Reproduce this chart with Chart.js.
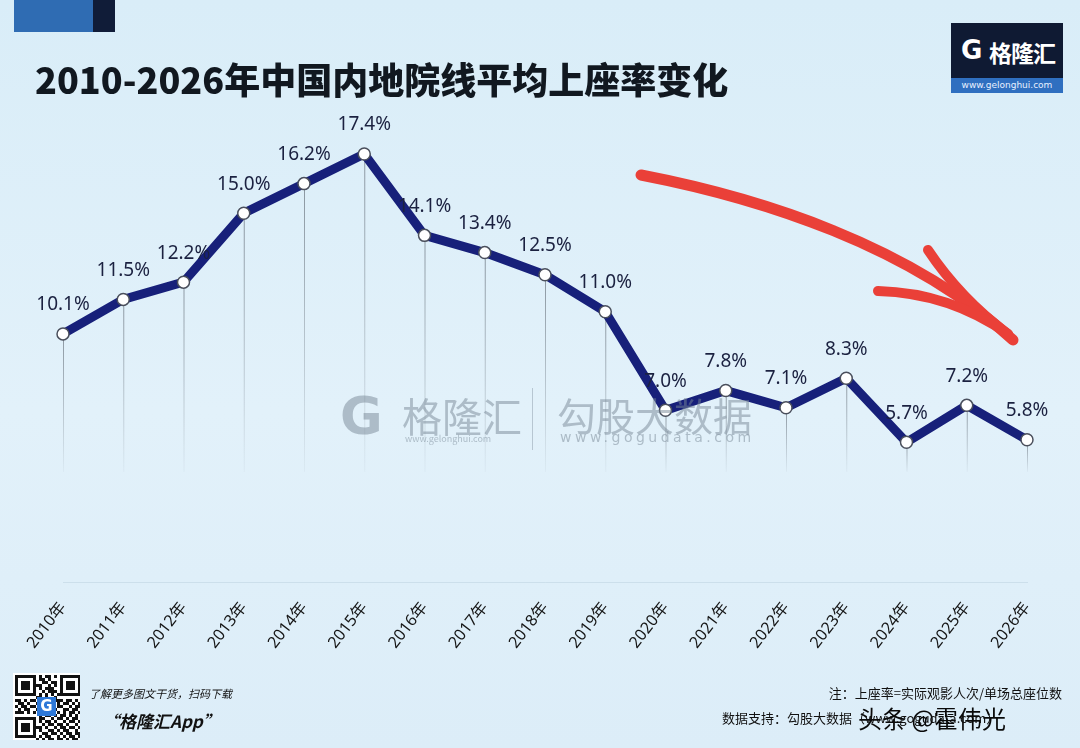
<!DOCTYPE html>
<html>
<head>
<meta charset="utf-8">
<script src="https://cdn.jsdelivr.net/npm/chart.js@4.4.1/dist/chart.umd.min.js"></script>
<style>
  html, body { margin: 0; padding: 0; }
  body {
    width: 1080px; height: 748px; overflow: hidden; position: relative;
    background: linear-gradient(180deg, #d9edf8 0%, #e2f1fa 55%, #dcedf8 100%);
    font-family: "Noto Sans CJK SC", "Noto Sans", sans-serif;
  }
  #wrap { position: absolute; left: 0; top: 0; width: 1080px; height: 748px; }
  .deco1 { position: absolute; left: 14px; top: 0; width: 79px; height: 32px; background: #2f6cb3; }
  .deco2 { position: absolute; left: 93px; top: 0; width: 22px; height: 32px; background: #101c38; }
  .title { position: absolute; left: 35px; top: 52px; font-size: 36px; font-weight: 900; color: #111820; letter-spacing: 0px; white-space: nowrap; }
  .logo { position: absolute; left: 951px; top: 23px; width: 112px; height: 70px; background: #0f1a33; }
  .logo .g { position: absolute; left: 10px; top: 12px; color: #fff; font-size: 26px; font-weight: 900; font-family: "DejaVu Sans", sans-serif; }
  .logo .nm { position: absolute; left: 38px; top: 12px; color: #fff; font-size: 23px; font-weight: 700; letter-spacing: -1px; }
  .logo .bar { position: absolute; left: 0; bottom: 0; width: 112px; height: 15px; background: #2f6fc0; color: #e8f0ff; font-size: 9px; line-height: 15px; text-align: center; font-family: "DejaVu Sans", sans-serif; }
  .wm { position: absolute; color: rgba(120,135,150,0.5); white-space: nowrap; }
  .qr { position: absolute; left: 13px; top: 673px; width: 67px; height: 67px; background: #fff; }
  .foot1 { position: absolute; left: 89px; top: 685px; font-size: 11px; font-style: italic; color: #111; }
  .foot2 { position: absolute; left: 102px; top: 708px; font-size: 17px; font-style: italic; font-weight: 700; color: #111; }
  .note { position: absolute; right: 18px; top: 683px; font-size: 13px; color: #111; }
  .src { position: absolute; right: 18px; top: 708px; font-size: 13px; color: #111; width: 340px; }
  .tt { position: absolute; left: 858px; top: 700px; font-size: 24px; color: #0a0a0a; white-space: nowrap; }
</style>
</head>
<body>
<div id="wrap"><canvas id="chartSeat" width="1080" height="748"></canvas></div>
<div class="deco1"></div><div class="deco2"></div>
<div class="title">2010-2026年中国内地院线平均上座率变化</div>
<div class="logo"><span class="g">G</span><span class="nm">格隆汇</span><div class="bar">www.gelonghui.com</div></div>

<div class="wm" style="left:340px;top:386px;font-size:52px;font-weight:900;font-family:'DejaVu Sans',sans-serif;">G</div>
<div class="wm" style="left:402px;top:386px;font-size:40px;">格隆汇</div>
<div class="wm" style="left:405px;top:432px;font-size:9px;">www.gelonghui.com</div>
<div class="wm" style="left:532px;top:388px;width:1px;height:62px;background:rgba(120,135,150,0.4);"></div>
<div class="wm" style="left:557px;top:386px;font-size:39px;">勾股大数据</div>
<div class="wm" style="left:560px;top:429px;font-size:14px;letter-spacing:3.5px;font-family:'DejaVu Sans',sans-serif;">www.gogudata.com</div>

<canvas class="qr" id="qr" width="67" height="67"></canvas>
<div class="foot1">了解更多图文干货，扫码下载</div>
<div class="foot2">“格隆汇App”</div>
<div class="note">注：上座率=实际观影人次/单场总座位数</div>
<div class="src">数据支持：勾股大数据（www.gogudata.com）</div>
<div class="tt">头条 @霍伟光</div>

<script>
const years = ['2010年','2011年','2012年','2013年','2014年','2015年','2016年','2017年','2018年','2019年','2020年','2021年','2022年','2023年','2024年','2025年','2026年'];
const seatRate = [10.1, 11.5, 12.2, 15.0, 16.2, 17.4, 14.1, 13.4, 12.5, 11.0, 7.0, 7.8, 7.1, 8.3, 5.7, 7.2, 5.8];
const yMin = 0;
const yMax = 20;
const dropTo = 4.5; // drop lines end at this value

// drop lines + value labels
const seatExtras = {
  id: 'seatExtras',
  beforeDatasetsDraw(chart) {
    const ctx = chart.ctx;
    const yScale = chart.scales.y;
    const bottom = yScale.getPixelForValue(dropTo);
    chart.getDatasetMeta(0).data.forEach(pt => {
      const g = ctx.createLinearGradient(0, pt.y, 0, bottom);
      g.addColorStop(0, 'rgba(110,120,130,0.75)');
      g.addColorStop(1, 'rgba(110,120,130,0.05)');
      ctx.save();
      ctx.strokeStyle = g;
      ctx.lineWidth = 1;
      ctx.beginPath();
      ctx.moveTo(pt.x + 0.5, pt.y);
      ctx.lineTo(pt.x + 0.5, bottom);
      ctx.stroke();
      ctx.restore();
    });
  },
  afterDatasetsDraw(chart) {
    const ctx = chart.ctx;
    ctx.save();
    ctx.font = '19px "Noto Sans", sans-serif';
    ctx.fillStyle = '#1b2140';
    ctx.textAlign = 'center';
    ctx.textBaseline = 'middle';
    chart.getDatasetMeta(0).data.forEach((pt, i) => {
      ctx.fillText(seatRate[i].toFixed(1) + '%', pt.x, pt.y - 29);
    });
    ctx.restore();
  },
  afterDraw(chart) {
    // red hand drawn arrow
    const ctx = chart.ctx;
    ctx.save();
    ctx.strokeStyle = '#ea4038';
    ctx.lineCap = 'round';
    ctx.lineJoin = 'round';
    ctx.lineWidth = 11;
    ctx.beginPath();
    ctx.moveTo(641, 175);
    ctx.bezierCurveTo(760, 198, 910, 245, 1013, 340);
    ctx.stroke();
    ctx.lineWidth = 10;
    ctx.beginPath();
    ctx.moveTo(928, 250);
    ctx.quadraticCurveTo(960, 298, 1008, 334);
    ctx.stroke();
    ctx.beginPath();
    ctx.moveTo(878, 291);
    ctx.quadraticCurveTo(950, 293, 1008, 334);
    ctx.stroke();
    ctx.restore();
  }
};

const ctxSeat = document.getElementById('chartSeat').getContext('2d');
new Chart(ctxSeat, {
  type: 'line',
  data: {
    labels: years,
    datasets: [{
      label: '平均上座率',
      data: seatRate,
      borderColor: '#17207a',
      borderWidth: 9,
      tension: 0,
      pointRadius: 6,
      pointBorderWidth: 1.5,
      pointBackgroundColor: '#ffffff',
      pointBorderColor: '#4a4f5c',
      fill: false
    }]
  },
  options: {
    responsive: false,
    animation: false,
    layout: { padding: { left: 63, right: 53, top: 90, bottom: 88 } },
    scales: {
      x: {
        offset: false,
        grid: { display: false },
        border: { color: 'rgba(170,195,210,0.35)', width: 1 },
        ticks: {
          minRotation: 52,
          maxRotation: 52,
          padding: 8,
          color: '#151515',
          font: { size: 16, family: '"Noto Sans", "Noto Sans CJK SC", sans-serif' }
        }
      },
      y: {
        display: false,
        min: yMin,
        max: yMax
      }
    },
    plugins: {
      legend: { display: false },
      tooltip: { enabled: false }
    }
  },
  plugins: [seatExtras]
});

// simple QR-like block
const q = document.getElementById('qr').getContext('2d');
q.fillStyle = '#fff'; q.fillRect(0, 0, 67, 67);
q.fillStyle = '#111';
const pattern = [
  '1111111010110101111111',
  '1000001011010001000001',
  '1011101001101101011101',
  '1011101110010101011101',
  '1011101010111001011101',
  '1000001001011101000001',
  '1111111010101011111111',
  '0000000110100100000000',
  '1101011011010111011010',
  '0110100101101010110101',
  '1011011000011011001011',
  '0101100100001100110110',
  '1110101000011010101101',
  '0000000010110101101010',
  '1111111011001011010110',
  '1000001010110100101101',
  '1011101001011011010010',
  '1011101110100101101101',
  '1011101010011010110010',
  '1000001001101101011011',
  '1111111010110010101101',
  '0000000101011011010110'
];
pattern.forEach((row, r) => {
  for (let c = 0; c < row.length; c++) {
    if (row[c] === '1') q.fillRect(2 + c * 3, 2 + r * 3, 3, 3);
  }
});
q.fillStyle = '#2d78d8'; q.fillRect(24, 24, 19, 19);
q.fillStyle = '#fff'; q.font = 'bold 15px "DejaVu Sans"'; q.textAlign = 'center'; q.textBaseline = 'middle';
q.fillText('G', 33.5, 34);
</script>
</body>
</html>
